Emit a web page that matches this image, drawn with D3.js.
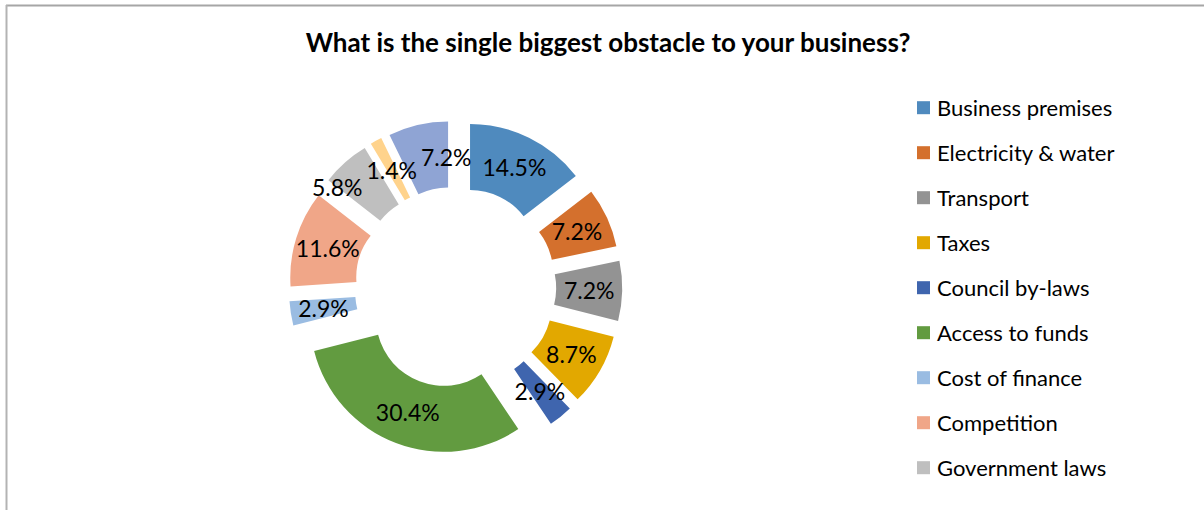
<!DOCTYPE html>
<html>
<head>
<meta charset="utf-8">
<script src="https://cdn.jsdelivr.net/npm/d3@7"></script>
<style>
  html, body { margin: 0; padding: 0; background: #fff; }
  svg { display: block; }
  text { font-family: Lato, "Noto Sans", sans-serif; fill: #000; }
</style>
</head>
<body>
<svg id="chart" width="1204" height="510"></svg>
<script>
// Survey answers, in slice order (clockwise from 12 o'clock)
const categories = [
  "Business premises", "Electricity & water", "Transport", "Taxes",
  "Council by-laws", "Access to funds", "Cost of finance", "Competition",
  "Government laws", "Crime", "Other"
];
const shares = [14.5, 7.2, 7.2, 8.7, 2.9, 30.4, 2.9, 11.6, 5.8, 1.4, 7.2];
const sliceColors = [
  "#4f8abe", "#d4702d", "#939393", "#e2a800", "#3f65ae", "#629b40",
  "#9abce2", "#f0a688", "#bfbfbf", "#ffd38c", "#8fa4d4"
];
const title = "What is the single biggest obstacle to your business?";

const W = 1204, H = 510;
const svg = d3.select("#chart");

svg.append("rect").attr("width", W).attr("height", H).attr("fill", "#fff");

// chart frame (top and left edges visible)
svg.append("line").attr("x1", 6).attr("x2", W).attr("y1", 5.5).attr("y2", 5.5)
  .attr("stroke", "#a6a6a6").attr("stroke-width", 2);
svg.append("line").attr("x1", 6.5).attr("x2", 6.5).attr("y1", 5).attr("y2", H)
  .attr("stroke", "#b3b3b3").attr("stroke-width", 2);

svg.append("text")
  .attr("x", 608).attr("y", 52)
  .attr("text-anchor", "middle")
  .attr("font-weight", "bold")
  .attr("font-size", 26)
  .text(title);

// exploded doughnut
const cx = 455.5, cy = 287.3, outerR = 133.7, innerR = 67.7, explode = 33;
const pie = d3.pie().sort(null).value(d => d.value);
const arcs = pie(categories.map((c, i) => ({ name: c, value: shares[i], color: sliceColors[i] })));
const arc = d3.arc().innerRadius(innerR).outerRadius(outerR);
const labelArc = d3.arc().innerRadius((innerR + outerR) / 2).outerRadius((innerR + outerR) / 2);

const shift = d => {
  const m = (d.startAngle + d.endAngle) / 2;
  return [Math.sin(m) * explode, -Math.cos(m) * explode];
};

const g = svg.append("g").attr("transform", `translate(${cx},${cy})`);
g.selectAll("path.slice").data(arcs).join("path")
  .attr("class", "slice")
  .attr("d", arc)
  .attr("fill", d => d.data.color)
  .attr("transform", d => `translate(${shift(d)})`);

// data labels: centred on the ring, nudged sideways when they collide
const labelSize = 23;
const labels = g.selectAll("text.lbl").data(arcs).join("text")
  .attr("class", "lbl")
  .attr("font-size", labelSize)
  .attr("text-anchor", "middle")
  .attr("dominant-baseline", "central")
  .text(d => d.data.value.toFixed(1) + "%");

const boxes = [];
labels.each(function (d) {
  const c = labelArc.centroid(d);
  const s = shift(d);
  const w = this.getComputedTextLength();
  boxes.push({ d, el: this, x: c[0] + s[0], y: c[1] + s[1], w, h: labelSize * 0.85 });
});
const placed = [];
boxes.slice().sort((a, b) => a.d.value - b.d.value || a.d.index - b.d.index).forEach(b => {
  const gap = 4;
  for (const p of placed) {
    const ox = (b.w + p.w) / 2 + gap - Math.abs(b.x - p.x);
    const oy = (b.h + p.h) / 2 - Math.abs(b.y - p.y);
    if (ox > 0 && oy > 0) b.x += (b.x < p.x ? -ox : ox);
  }
  placed.push(b);
});
boxes.forEach(b => d3.select(b.el).attr("x", b.x).attr("y", b.y));

// legend: as many rows as fit in the plot height
const legendX = 917, legendTop = 107.7, rowH = 45, legendBottom = 490;
const rows = Math.floor((legendBottom - legendTop) / rowH) + 1;
const legend = svg.append("g").selectAll("g").data(arcs.slice(0, rows)).join("g")
  .attr("transform", (d, i) => `translate(${legendX},${legendTop + i * rowH})`);
legend.append("rect").attr("x", 0).attr("y", -6.5).attr("width", 13).attr("height", 13)
  .attr("fill", d => d.data.color);
legend.append("text").attr("x", 20).attr("y", 0)
  .attr("dominant-baseline", "central")
  .attr("font-size", 22)
  .text(d => d.data.name);
</script>
</body>
</html>
